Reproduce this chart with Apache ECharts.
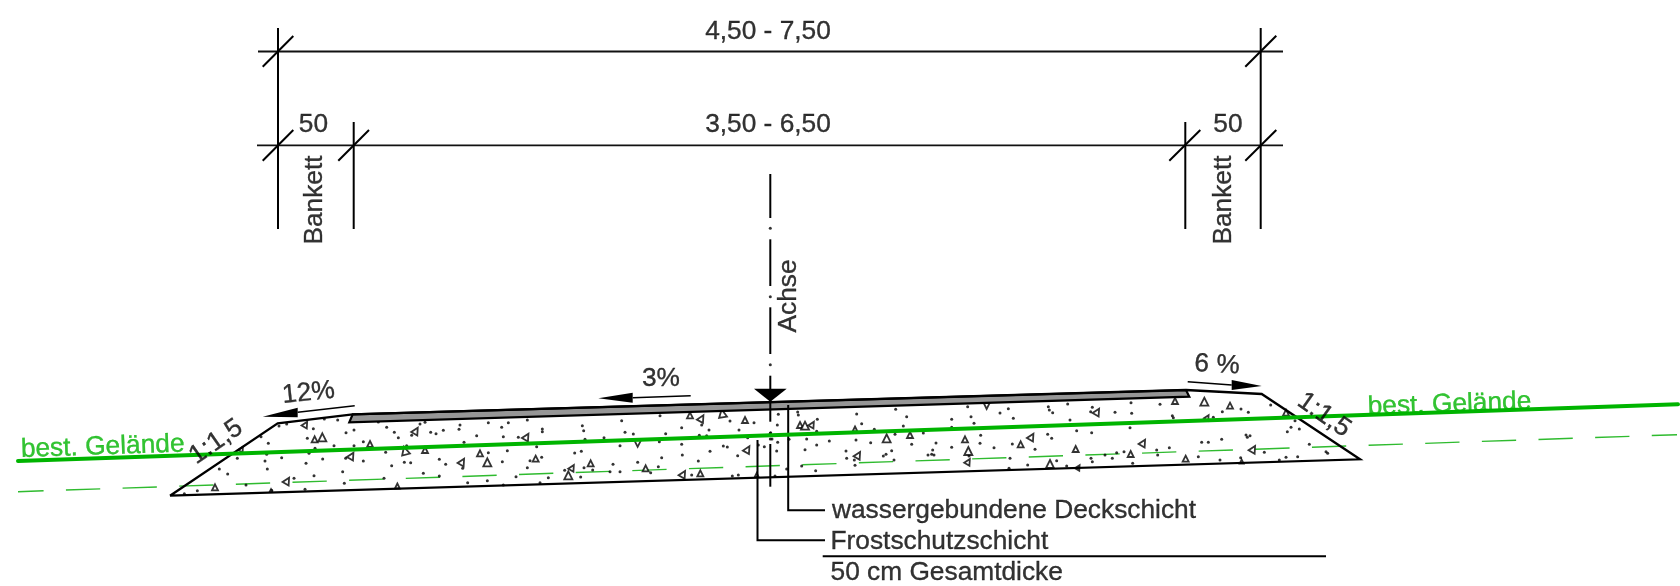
<!DOCTYPE html>
<html><head><meta charset="utf-8">
<style>html,body{margin:0;padding:0;background:#fff}#c{width:1680px;height:586px}</style>
<script src="https://cdn.jsdelivr.net/npm/echarts@6/dist/echarts.min.js"></script>
</head><body><div id="c"></div>
<script>
// Drawing units are the picture's own: x 0..1680, y 0..586 downward.
const dimensionLines = [
  [[258,51.5],[1283,51.5]], [[257,145.3],[1283,145.3]]
];
const extensionLines = [
  [[278,28],[278,229]], [[353.7,122],[353.7,229]],
  [[1185.3,122],[1185.3,229]], [[1260.7,28],[1260.7,229]]
];
const tickMarks = [
  [[262.7,66.7],[293.3,36]], [[262.7,160.7],[293.3,130]], [[338.3,160.7],[369,130]],
  [[1169.3,160.7],[1200.3,130]], [[1245.3,66.7],[1276.3,35.7]], [[1245.3,160.7],[1276.3,130]]
];
const axisSegments = [
  [[770.3,174],[770.3,218]], [[770.3,239.3],[770.3,286]], [[770.3,307.3],[770.3,354]],
  [[770.3,375.7],[770.3,421.7]], [[770.3,444],[770.3,486.7]]
];
const axisDots = [[770.3,228.3],[770.3,296.7],[770.3,364.7],[770.3,433.3],[770.3,439]];
const embankment = [[170,495.7],[277.7,423.3],[352.7,414.3],[1186,390],[1261.7,394],[1360,459.3],[170,495.7]];
const surfacing = [[352.7,414.3],[1186,390],[1189.3,396.7],[349.3,422.3]];
const groundLine = [[18,461],[1678,404.3]];
const formerGround = [[18,491.7],[1677,434.7]];
const leaders = [
  [[788.2,405],[788.2,510.3],[825,510.3]],
  [[757.5,440],[757.5,540.3],[825,540.3]],
  [[822.7,556.3],[1326,556.3]]
];
const arrowShafts = [
  [[297.7,412.3],[354.7,405.7]], [[632.7,397.7],[690.7,395.7]], [[1187.7,381.7],[1231.7,385]]
];
const solidHeads = [
  [[262.7,416.7],[297.7,407.7],[297.7,417.3]],
  [[598.3,398.3],[632.7,392.7],[632.7,402.7]],
  [[1261.7,386],[1231.7,380],[1231.7,390]],
  [[754,388.7],[786.7,388.7],[770.3,401.7]]
];
const labels = [
  ['4,50 - 7,50',768,32,0,'#000'], ['3,50 - 6,50',768,125,0,'#000'],
  ['50',313.5,124.7,0,'#000'], ['50',1228,125,0,'#000'],
  ['Bankett',315,200,90,'#000'], ['Bankett',1224,200,90,'#000'],
  ['Achse',789,296,90,'#000'],
  ['12%',308.5,393,6,'#000'], ['3%',661,379,0,'#000'], ['6 %',1217,365,-3,'#000'],
  ['1:1,5',216,442,35,'#000'], ['1:1,5',1324,415,-35,'#000'],
  ['best. Gelände',102.7,447,2,'#00b400'], ['best. Gelände',1449.5,404.5,2,'#00b400']
];
const notes = [
  ['wassergebundene Deckschicht',832,511], ['Frostschutzschicht',830.5,542], ['50 cm Gesamtdicke',830.5,573]
];
const gravelOrigins = [[160,400],[560,390],[960,380]];
const gravelDots = [
 [[357,78],[380,72],[460,86],[442,115],[533,60],[493,57],[558,98],[582,90],[655,66],[680,82],[703,97],[715,113],[755,106],[795,67],[780,72],[812,97],[828,101],[850,91],[900,75],[897,88],[985,68],[950,107],[1025,82],[1045,68],[1030,110],[1102,60],[1075,112],[1147,87],[1147,95],[912,127],[325,130],[303,110],[148,160],[320,163],[232,175],[315,183],[322,207],[178,207],[203,222],[365,173],[438,190],[488,177],[447,160],[522,137],[582,137],[610,125],[465,145],[677,157],[740,137],[557,175],[610,183],[695,197],[733,187],[752,188],[838,178],[857,193],[908,205],[985,158],[1042,152],[1130,140],[1027,185],[1110,182],[1145,172],[1102,203],[402,235],[462,227],[548,215],[553,250],[258,255],[112,272],[73,281],[335,271],[435,268],[790,220],[838,228],[923,248],[982,242],[1068,230],[1165,233],[1140,248],[1030,255],[672,235]],
 [[67,107],[71,122],[185,92],[300,77],[195,127],[220,132],[132,143],[75,148],[317,131],[365,113],[425,105],[447,120],[418,136],[440,137],[510,93],[537,120],[582,98],[655,73],[652,105],[632,128],[636,147],[653,157],[613,170],[650,183],[595,165],[563,143],[687,148],[713,66],[715,75],[772,88],[770,124],[740,147],[770,165],[808,153],[735,179],[890,72],[905,101],[888,150],[932,158],[943,118],[1007,58],[1040,80],[1030,108],[1005,133],[1090,129],[1055,163],[1128,159],[1175,88],[1175,112],[1175,172],[1118,180],[1115,193],[1104,195],[1122,195],[858,183],[860,205],[883,210],[885,226],[978,193],[970,198],[995,182],[1002,210],[725,228],[767,242],[680,237],[645,258],[535,255],[517,258],[533,197],[490,168],[502,171],[450,184],[365,163],[367,195],[298,155],[180,167],[44,189],[64,184],[305,203],[233,217],[159,223],[415,213],[295,230],[272,248],[180,245],[98,240],[72,233],[14,241],[62,261],[395,255],[150,245]],
 [[23,80],[33,110],[42,130],[120,99],[145,86],[160,115],[265,80],[268,90],[278,98],[323,72],[330,120],[397,82],[392,95],[465,97],[513,68],[515,100],[600,73],[637,107],[640,113],[787,95],[843,87],[865,97],[932,75],[1005,122],[1018,147],[993,142],[982,155],[760,112],[62,166],[60,190],[157,192],[102,203],[225,208],[263,163],[275,175],[350,152],[395,158],[510,143],[150,235],[147,265],[203,255],[290,242],[320,258],[393,235],[397,245],[435,225],[457,235],[470,218],[492,215],[518,250],[590,210],[593,225],[628,203],[715,230],[725,187],[745,187],[785,178],[780,240],[842,233],[858,165],[870,167],[862,172],[913,217],[978,232],[958,240],[1013,230],[1048,193],[1098,215],[1103,220],[27,228]]
];
// x, y, turn in degrees, size
const gravelStones = [
 [[437,73,-30,6],[487,112,0,8],[464,118,0,6],[630,132,0,6],[768,92,-30,7],[575,167,-30,7],[735,152,15,8],[795,150,0,6],[960,160,0,6],[982,187,0,8],[907,185,-30,7],[1127,176,0,6],[1100,110,-30,7],[245,147,-30,5],[165,262,0,6],[382,242,-30,7],[333,272,0,3],[712,258,0,5]],
 [[390,76,0,6],[425,85,-30,7],[487,70,10,8],[555,90,0,6],[233,160,180,7],[92,220,0,6],[37,233,-30,6],[25,256,0,8],[257,235,0,6],[370,252,-30,7],[421,250,0,6],[563,178,-30,7],[895,195,-30,7],[980,145,0,8],[1050,135,0,6],[885,117,0,5],[720,105,0,6],[735,107,0,8],[757,103,-30,6],[590,255,0,4]],
 [[80,78,180,6],[412,95,-30,7],[645,63,0,6],[733,65,0,8],[810,77,0,6],[15,178,0,6],[215,170,-30,7],[182,193,0,6],[347,207,0,6],[25,213,0,8],[25,245,-30,6],[270,252,0,8],[355,262,-30,5],[512,222,0,6],[550,188,-30,7],[677,236,0,6],[880,207,-30,7],[742,112,-30,5],[978,98,0,6],[845,245,0,4]]
];
const fromCrop = (p, i) => [gravelOrigins[i][0] + p[0]/3, gravelOrigins[i][1] + p[1]/3];
const dotPoints = gravelDots.flatMap((g, i) => g.map(p => fromCrop(p, i)));
const stonePoints = gravelStones.flatMap((g, i) => g.map(p => [...fromCrop(p, i), p[2], p[3]]));

const ink = '#000';
const path = (name, pts, width, color, extra, z) => ({
  name, type: 'line', data: pts, showSymbol: false, silent: true, z: z || 3,
  clip: false, lineStyle: Object.assign({ width, color, cap: 'butt', join: 'miter' }, extra || {})
});
const polygons = (name, shapes, fill, stroke, z) => ({
  name, type: 'custom', silent: true, z, clip: false,
  data: shapes.map((s, i) => [i, s[0][0], s[0][1]]),
  encode: { x: 1, y: 2 },
  renderItem: (params, api) => ({
    type: 'polygon',
    shape: { points: shapes[api.value(0)].map(p => api.coord(p)) },
    style: { fill, stroke, lineWidth: stroke === 'none' ? 0 : 2.2 }
  })
});
const textSeries = (name, rows, align, z) => ({
  name, type: 'scatter', symbolSize: 0, silent: true, z, clip: false,
  data: rows.map(r => ({
    value: [r[1], r[2]],
    label: { show: true, position: 'inside', formatter: r[0], rotate: r[3] || 0,
      align, verticalAlign: 'middle', color: r[4] || ink, fontFamily: '"Liberation Sans", Arial, sans-serif', fontSize: 26.3,
      textBorderColor: r[4] || ink, textBorderWidth: 0.35 }
  }))
});

const series = [];
dimensionLines.forEach((l, i) => series.push(path('dim' + i, l, 1.8, '#111')));
extensionLines.forEach((l, i) => series.push(path('ext' + i, l, 2, ink)));
tickMarks.forEach((l, i) => series.push(path('tick' + i, l, 2, ink)));
series.push({ name: 'gravel', type: 'scatter', data: dotPoints, symbol: 'circle', symbolSize: 3, silent: true, z: 2, itemStyle: { color: '#000' } });
series.push({ name: 'stones', type: 'scatter', data: stonePoints, symbol: 'triangle', silent: true, z: 2,
  symbolSize: v => v[3], symbolRotate: v => v[2],
  itemStyle: { color: '#fff', borderColor: '#000', borderWidth: 1.8 } });
series.push(path('former ground', formerGround, 1.4, '#2fbb2f', { type: [34.3, 22.37], dashOffset: 8.7 }, 2));
series.push(polygons('surfacing', [surfacing], '#969696', ink, 4));
series.push(path('embankment', embankment, 2.3, ink, null, 4));
axisSegments.forEach((l, i) => series.push(path('axis' + i, l, 2, ink, null, 5)));
series.push({ name: 'axis dots', type: 'scatter', data: axisDots, symbolSize: 3, silent: true, z: 5, itemStyle: { color: ink } });
leaders.forEach((l, i) => series.push(path('leader' + i, l, 2, ink, null, 5)));
arrowShafts.forEach((l, i) => series.push(path('shaft' + i, l, 1.4, ink, null, 5)));
series.push(polygons('heads', solidHeads, '#000', 'none', 6));
series.push(path('ground', groundLine, 4, '#00b400', { cap: 'round' }, 6));
series.push(textSeries('labels', labels, 'center', 8));
series.push(textSeries('notes', notes, 'left', 8));

const chart = echarts.init(document.getElementById('c'), null, { renderer: 'canvas' });
chart.setOption({
  animation: false, backgroundColor: '#fff',
  grid: { left: 0, right: 0, top: 0, bottom: 0 },
  xAxis: { type: 'value', min: 0, max: 1680, show: false },
  yAxis: { type: 'value', min: 0, max: 586, inverse: true, show: false },
  tooltip: { show: false }, legend: { show: false },
  series
});
</script></body></html>
